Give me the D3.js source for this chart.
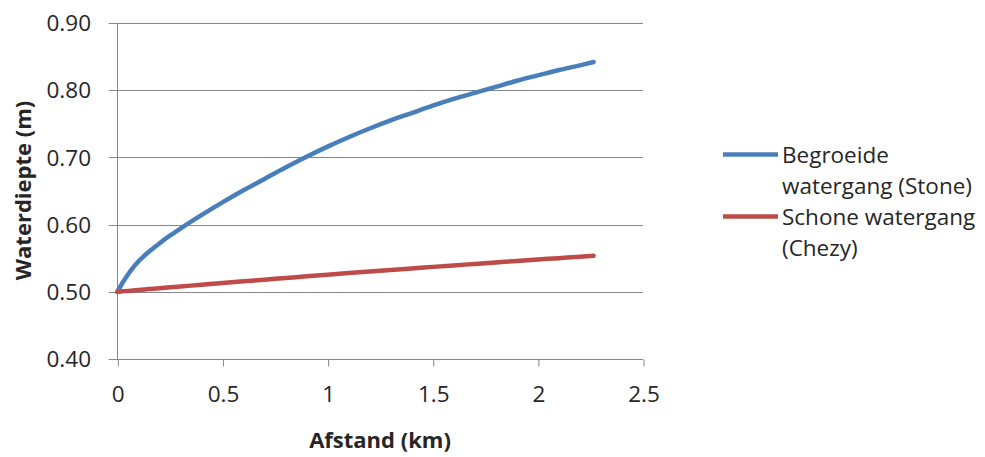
<!DOCTYPE html>
<html>
<head>
<meta charset="utf-8">
<script src="https://cdn.jsdelivr.net/npm/d3@7"></script>
<style>
  html, body { margin: 0; padding: 0; background: #ffffff; }
  svg { display: block; }
  text { font-family: "Open Sans", sans-serif; fill: #262626; }
</style>
</head>
<body>
<svg id="chart" width="985" height="457"></svg>
<script>
// Distance along the watercourse (km)
const distance = [0, 0.025, 0.05, 0.075, 0.1, 0.15, 0.2, 0.25, 0.3, 0.4, 0.5, 0.6, 0.7, 0.8,
                  0.9, 1.0, 1.1, 1.2, 1.3, 1.4, 1.5, 1.6, 1.7, 1.8, 1.9, 2.0, 2.1, 2.2, 2.265];
// Water depth, overgrown watercourse (Stone), m
const depthStone = [0.500, 0.5135, 0.5255, 0.536, 0.545, 0.5595, 0.572, 0.5835, 0.594, 0.614,
                    0.633, 0.651, 0.668, 0.685, 0.701, 0.716, 0.730, 0.743, 0.755, 0.766,
                    0.777, 0.787, 0.796, 0.805, 0.814, 0.822, 0.830, 0.837, 0.842];
// Water depth, clean watercourse (Chezy), m
const depthChezy = [0.5000, 0.5007, 0.5013, 0.5020, 0.5027, 0.5040, 0.5053, 0.5066, 0.5079,
                    0.5105, 0.5131, 0.5156, 0.5181, 0.5205, 0.5230, 0.5254, 0.5278, 0.5301,
                    0.5325, 0.5348, 0.5371, 0.5393, 0.5415, 0.5437, 0.5459, 0.5480, 0.5501,
                    0.5522, 0.5535];

const legendLines = [["Begroeide", "watergang (Stone)"], ["Schone watergang", "(Chezy)"]];
const seriesColors = ["#4a7ebb", "#be4b48"];

const xTicks = [0, 0.5, 1, 1.5, 2, 2.5];
const xTickLabels = ["0", "0.5", "1", "1.5", "2", "2.5"];
const yTicks = [0.40, 0.50, 0.60, 0.70, 0.80, 0.90];
const yTickLabels = ["0.40", "0.50", "0.60", "0.70", "0.80", "0.90"];

const xTitle = "Afstand (km)";
const yTitle = "Waterdiepte (m)";

const svg = d3.select("#chart");
const plot = { left: 117.3, right: 643, top: 23, bottom: 359 };

const x = d3.scaleLinear().domain([0, 2.5]).range([plot.left, plot.right]);
const y = d3.scaleLinear().domain([0.40, 0.90]).range([plot.bottom, plot.top]);

const gridColor = "#868686";
const fontFamily = "'Open Sans', sans-serif";

// Horizontal gridlines (extend left past the axis as tick marks)
svg.append("g").selectAll("line")
  .data(yTicks)
  .join("line")
  .attr("x1", plot.left - 8.5)
  .attr("x2", plot.right)
  .attr("y1", d => Math.round(y(d)) + 0.5)
  .attr("y2", d => Math.round(y(d)) + 0.5)
  .attr("stroke", gridColor)
  .attr("stroke-width", 1);

// Vertical axis line
svg.append("line")
  .attr("x1", Math.round(plot.left) + 0.5).attr("x2", Math.round(plot.left) + 0.5)
  .attr("y1", plot.top).attr("y2", plot.bottom)
  .attr("stroke", gridColor).attr("stroke-width", 1);

// Bottom axis with downward ticks
const xAxis = d3.axisBottom(x)
  .tickValues(xTicks)
  .tickFormat((d, i) => xTickLabels[i])
  .tickSizeInner(7)
  .tickSizeOuter(0)
  .tickPadding(20);

const gx = svg.append("g")
  .attr("transform", `translate(0.5,${Math.round(plot.bottom) + 0.5})`)
  .call(xAxis);
gx.select(".domain").attr("stroke", gridColor).attr("d", `M${plot.left - 0.5},0H${plot.right - 0.5}`);
gx.selectAll(".tick line").attr("stroke", gridColor);
gx.selectAll(".tick text")
  .attr("font-family", fontFamily)
  .attr("font-size", 22.5)
  .attr("fill", "#262626");

// Left tick labels
svg.append("g").selectAll("text")
  .data(yTicks)
  .join("text")
  .attr("x", 91)
  .attr("y", d => y(d))
  .attr("dy", "0.36em")
  .attr("text-anchor", "end")
  .attr("font-size", 22.5)
  .text((d, i) => yTickLabels[i]);

// Axis titles
svg.append("text")
  .attr("x", 380)
  .attr("y", 448)
  .attr("text-anchor", "middle")
  .attr("font-size", 22)
  .attr("font-weight", "bold")
  .text(xTitle);

svg.append("text")
  .attr("transform", "translate(31,190.5) rotate(-90)")
  .attr("text-anchor", "middle")
  .attr("font-size", 22)
  .attr("font-weight", "bold")
  .text(yTitle);

// Series lines
const series = [depthStone, depthChezy];
const line = d3.line()
  .x(d => x(d[0]))
  .y(d => y(d[1]))
  .curve(d3.curveMonotoneX);

series.forEach((vals, i) => {
  svg.append("path")
    .datum(distance.map((dx, j) => [dx, vals[j]]))
    .attr("fill", "none")
    .attr("stroke", seriesColors[i])
    .attr("stroke-width", 4.5)
    .attr("stroke-linecap", "round")
    .attr("stroke-linejoin", "round")
    .attr("d", line);
});

// Legend
const legendY = [154.5, 216.5];
const legend = svg.append("g");
legendLines.forEach((rows, i) => {
  legend.append("line")
    .attr("x1", 723).attr("x2", 778)
    .attr("y1", legendY[i]).attr("y2", legendY[i])
    .attr("stroke", seriesColors[i])
    .attr("stroke-width", 4.5);
  rows.forEach((row, r) => {
    legend.append("text")
      .attr("x", 782)
      .attr("y", legendY[i] + r * 31)
      .attr("dy", "0.36em")
      .attr("font-size", 22.5)
      .text(row);
  });
});
</script>
</body>
</html>
